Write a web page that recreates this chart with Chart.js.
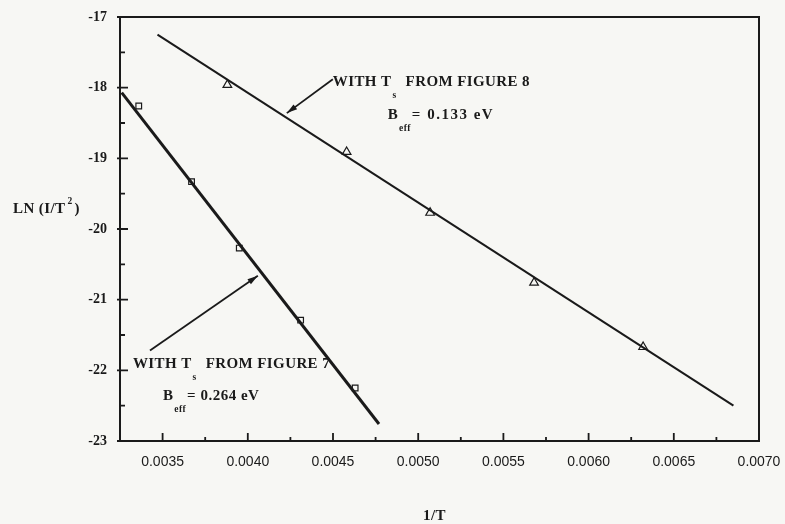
<!DOCTYPE html>
<html>
<head>
<meta charset="utf-8">
<script src="https://cdn.jsdelivr.net/npm/chart.js@4.4.0/dist/chart.umd.min.js"></script>
<style>
  html, body { margin: 0; padding: 0; background: #f7f7f4; }
  canvas { display: block; }
</style>
</head>
<body>
<canvas id="chart" width="785" height="524"></canvas>
<script>
// measured points (Ts from figure 7 -> squares, Ts from figure 8 -> triangles)
const fig7X = [0.00336, 0.00367, 0.00395, 0.00431, 0.00463];
const fig7Y = [-18.26, -19.33, -20.27, -21.29, -22.25];
const fig8X = [0.00388, 0.00458, 0.00507, 0.00568, 0.00632];
const fig8Y = [-17.96, -18.91, -19.77, -20.76, -21.67];

// fitted lines, end points
const fit7X = [0.00326, 0.00477];
const fit7Y = [-18.07, -22.76];
const fit8X = [0.00347, 0.00685];
const fit8Y = [-17.25, -22.50];

const xTicks = [0.0035, 0.0040, 0.0045, 0.0050, 0.0055, 0.0060, 0.0065, 0.0070];
const xMinor = [0.00375, 0.00425, 0.00475, 0.00525, 0.00575, 0.00625, 0.00675];
const yTicks = [-23, -22, -21, -20, -19, -18, -17];
const yMinor = [-22.5, -21.5, -20.5, -19.5, -18.5, -17.5];

const SERIF = '"Liberation Serif", "DejaVu Serif", serif';
const INK = '#1a1a1a';
const TXT = 'bold 15px ' + SERIF;
const SUB = 'bold 9.5px ' + SERIF;

const zip = (xs, ys) => xs.map((x, i) => ({ x: x, y: ys[i] }));

// text pieces with subscripts, placed in data coords
const notes = [
  { x: 0.004499, y: -17.976, parts: [{ t: 'WITH T' }, { t: 's', sub: true, gap: 8 }, { t: 'FROM FIGURE 8' }] },
  { x: 0.004821, y: -18.45,  parts: [{ t: 'B' }, { t: 'eff', sub: true, gap: 0 }, { t: '= 0.133 eV', sp: 1.5 }] },
  { x: 0.003326, y: -21.965, parts: [{ t: 'WITH T' }, { t: 's', sub: true, gap: 8 }, { t: 'FROM FIGURE 7' }] },
  { x: 0.003502, y: -22.42,  parts: [{ t: 'B' }, { t: 'eff', sub: true, gap: 0 }, { t: '= 0.264 eV', sp: 0.5 }] },
];
const arrows = [
  { x0: 0.004499, y0: -17.88, x1: 0.004229, y1: -18.36 },
  { x0: 0.003426, y0: -21.72, x1: 0.004059, y1: -20.66 },
];

function drawRich(ctx, x, y, parts) {
  let cx = x;
  parts.forEach((p) => {
    ctx.letterSpacing = (p.sp || 0.4) + 'px';
    if (p.sub) {
      ctx.font = SUB;
      ctx.fillText(p.t, cx + 1, y + 12);
      cx += ctx.measureText(p.t).width + 2 + (p.gap || 0);
    } else {
      ctx.font = TXT;
      ctx.fillText(p.t, cx, y);
      cx += ctx.measureText(p.t).width;
    }
  });
  ctx.letterSpacing = '0px';
}

const decor = {
  id: 'decor',
  afterDatasetsDraw(chart) {
    const { ctx, chartArea: a, scales: { x, y } } = chart;
    ctx.save();
    ctx.strokeStyle = INK;
    ctx.fillStyle = INK;

    // frame
    ctx.lineWidth = 2;
    ctx.strokeRect(a.left, a.top, a.right - a.left, a.bottom - a.top);

    // inward ticks
    ctx.lineWidth = 1.8;
    ctx.beginPath();
    yTicks.forEach((v) => { const py = y.getPixelForValue(v); ctx.moveTo(a.left - 3, py); ctx.lineTo(a.left + 8, py); });
    yMinor.forEach((v) => { const py = y.getPixelForValue(v); ctx.moveTo(a.left, py); ctx.lineTo(a.left + 5, py); });
    xTicks.forEach((v) => { const px = x.getPixelForValue(v); ctx.moveTo(px, a.bottom); ctx.lineTo(px, a.bottom - 8); });
    xMinor.forEach((v) => { const px = x.getPixelForValue(v); ctx.moveTo(px, a.bottom); ctx.lineTo(px, a.bottom - 4); });
    ctx.stroke();

    // arrows
    ctx.lineWidth = 1.8;
    arrows.forEach((r) => {
      const x0 = x.getPixelForValue(r.x0), y0 = y.getPixelForValue(r.y0);
      const x1 = x.getPixelForValue(r.x1), y1 = y.getPixelForValue(r.y1);
      const ang = Math.atan2(y1 - y0, x1 - x0);
      ctx.beginPath(); ctx.moveTo(x0, y0); ctx.lineTo(x1, y1); ctx.stroke();
      ctx.beginPath();
      ctx.moveTo(x1, y1);
      ctx.lineTo(x1 - 11 * Math.cos(ang - 0.28), y1 - 11 * Math.sin(ang - 0.28));
      ctx.lineTo(x1 - 11 * Math.cos(ang + 0.28), y1 - 11 * Math.sin(ang + 0.28));
      ctx.closePath(); ctx.fill();
    });

    // notes
    ctx.textBaseline = 'alphabetic';
    ctx.textAlign = 'left';
    notes.forEach((n) => drawRich(ctx, x.getPixelForValue(n.x), y.getPixelForValue(n.y), n.parts));

    // axis titles
    const ly = 213;
    const lx = a.left - 107;
    ctx.letterSpacing = '0.4px';
    ctx.font = TXT;
    ctx.fillText('LN (I/T', lx, ly);
    const w = ctx.measureText('LN (I/T').width;
    ctx.font = SUB;
    ctx.fillText('2', lx + w + 2, ly - 9);
    ctx.font = TXT;
    ctx.fillText(')', lx + w + 9, ly);

    ctx.textAlign = 'center';
    ctx.fillText('1/T', (a.left + a.right) / 2 - 5, 520);
    ctx.restore();
  }
};

new Chart(document.getElementById('chart'), {
  type: 'scatter',
  data: {
    datasets: [
      { label: 'fit 7', data: zip(fit7X, fit7Y), showLine: true, borderColor: INK, borderWidth: 3, pointRadius: 0 },
      { label: 'fit 8', data: zip(fit8X, fit8Y), showLine: true, borderColor: INK, borderWidth: 2, pointRadius: 0 },
      { label: 'Ts from figure 7', data: zip(fig7X, fig7Y), pointStyle: 'rect', pointRadius: 4,
        borderColor: INK, borderWidth: 1.2, backgroundColor: 'rgba(0,0,0,0)' },
      { label: 'Ts from figure 8', data: zip(fig8X, fig8Y), pointStyle: 'triangle', pointRadius: 5,
        borderColor: INK, borderWidth: 1.2, backgroundColor: 'rgba(0,0,0,0)' },
    ],
  },
  options: {
    responsive: false,
    animation: false,
    layout: { padding: { left: 0, top: 17, right: 26, bottom: 0 } },
    plugins: { legend: { display: false }, tooltip: { enabled: false } },
    scales: {
      x: {
        type: 'linear', min: 0.00325, max: 0.0070,
        afterBuildTicks: (s) => { s.ticks = xTicks.map((v) => ({ value: v })); },
        afterFit: (s) => { s.height = 83; s.paddingLeft = 0; s.paddingRight = 0; },
        grid: { display: false, drawTicks: false },
        border: { display: false },
        ticks: { padding: 13, color: INK, font: { family: '"Liberation Sans", sans-serif', size: 14 },
                 callback: (v) => v.toFixed(4), maxRotation: 0, autoSkip: false },
      },
      y: {
        type: 'linear', min: -23, max: -17,
        afterBuildTicks: (s) => { s.ticks = yTicks.map((v) => ({ value: v })); },
        afterFit: (s) => { s.width = 120; s.paddingTop = 0; s.paddingBottom = 0; },
        grid: { display: false, drawTicks: false },
        border: { display: false },
        ticks: { padding: 13, color: INK, font: { family: SERIF, size: 14, weight: 'bold' }, callback: (v) => String(v) },
      },
    },
  },
  plugins: [decor],
});
</script>
</body>
</html>
